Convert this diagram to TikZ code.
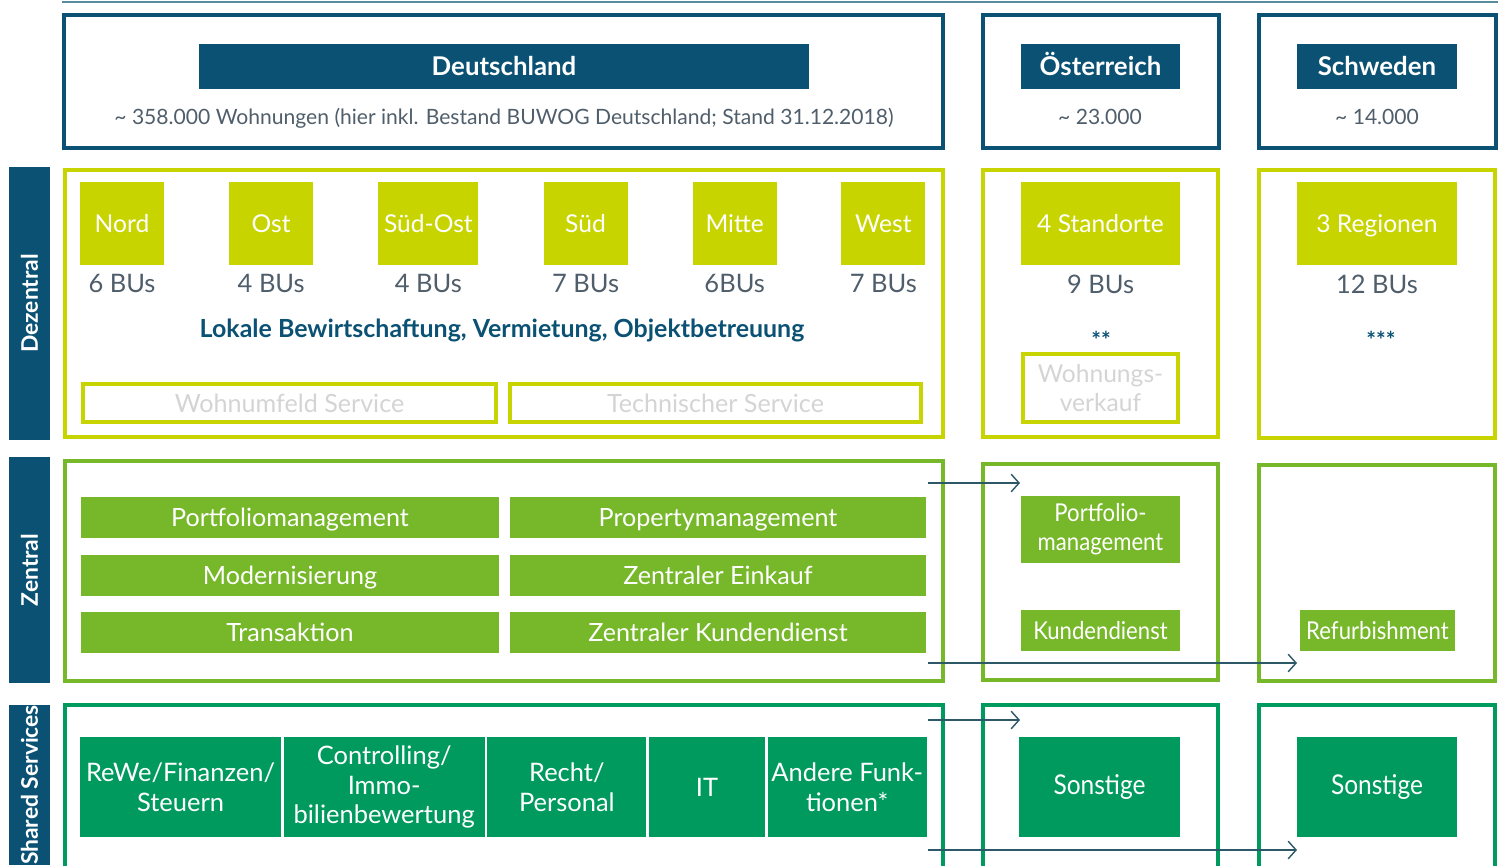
\documentclass[tikz,border=0pt]{standalone}
\usepackage{fontspec}
\setmainfont{Lato}
\newfontfamily\schmal[FakeStretch=0.9]{Lato}
\usetikzlibrary{positioning,arrows.meta}

\definecolor{dunkelblau}{HTML}{0B5174}
\definecolor{limette}{HTML}{C8D400}
\definecolor{gruen}{HTML}{76B82A}
\definecolor{ssgruen}{HTML}{009A5E}
\definecolor{pfeil}{HTML}{2D5868}
\definecolor{textgrau}{HTML}{4F5E6A}
\definecolor{hellgrau}{HTML}{D4D4D4}
\definecolor{linie}{HTML}{5B8C9E}

\begin{document}
\begin{tikzpicture}[x=0.02cm, y=-0.02cm]
		\tikzstyle{land}=[rectangle, fill=dunkelblau, text=white, font=\bfseries\fontsize{14.7}{16}\selectfont, minimum height=0.9cm, inner sep=0pt, text height=10.5pt, text depth=0pt]
		\tikzstyle{anzahl}=[text=textgrau, font=\fontsize{12}{15}\selectfont, inner sep=0pt, anchor=base]
		\tikzstyle{seite}=[rectangle, fill=dunkelblau, text=white, font=\bfseries\fontsize{13}{15}\selectfont, rotate=90, minimum height=0.82cm, inner sep=0pt]
		\tikzstyle{region}=[rectangle, fill=limette, text=white, font=\fontsize{14}{16}\selectfont, minimum height=1.66cm, minimum width=1.68cm, inner sep=0pt, text height=10pt, text depth=0pt]
		\tikzstyle{bu}=[text=textgrau, font=\fontsize{14.5}{17}\selectfont, inner sep=0pt]
		\tikzstyle{service}=[rectangle, draw=limette, line width=2.5pt, text=hellgrau, font=\fontsize{14.3}{16}\selectfont, minimum height=0.75cm, inner sep=0pt, align=center]
		\tikzstyle{zentral}=[rectangle, fill=gruen, text=white, font=\fontsize{14.3}{17}\selectfont, minimum height=0.82cm, inner sep=0pt, text height=10.25pt, text depth=0pt]
		\tikzstyle{zentralklein}=[rectangle, fill=gruen, text=white, font=\schmal\fontsize{14}{16.5}\selectfont, minimum height=0.82cm, inner sep=0pt, align=center]
		\tikzstyle{shared}=[rectangle, fill=ssgruen, text=white, font=\fontsize{14.5}{17}\selectfont, minimum height=2cm, inner sep=0pt, align=center]
		\tikzstyle{stern}=[text=dunkelblau, font=\bfseries\fontsize{13}{15}\selectfont, inner sep=0pt, anchor=north]
		\tikzstyle{connect}=[-{Straight Barb[length=4.5pt, width=10pt]}, draw=pfeil, line width=0.8pt]
		
		\useasboundingbox (0,0) rectangle (1503,865);
		\clip (0,0) rectangle (1503,865);
		
		\draw[linie, line width=1pt] (62,2) -- (1498,2);
		
		% Rahmen
		\draw[dunkelblau, line width=2.2pt] (64,15) rectangle (943,148);
		\draw[dunkelblau, line width=2.2pt] (983,15) rectangle (1219,148);
		\draw[dunkelblau, line width=2.2pt] (1259,15) rectangle (1496,148);
		
		\draw[limette, line width=2pt] (65,170) rectangle (943,437);
		\draw[limette, line width=2pt] (983,170) rectangle (1218,437);
		\draw[limette, line width=2pt] (1259,170) rectangle (1495,438);
		
		\draw[gruen, line width=1.8pt] (65,461) rectangle (943,681);
		\draw[gruen, line width=1.8pt] (983,464) rectangle (1218,680);
		\draw[gruen, line width=1.8pt] (1259,465) rectangle (1495,681);
		
		\draw[ssgruen, line width=1.8pt] (65,705) rectangle (943,900);
		\draw[ssgruen, line width=1.8pt] (983,705) rectangle (1218,900);
		\draw[ssgruen, line width=1.8pt] (1259,705) rectangle (1495,900);
		
		\node[seite, minimum width=5.46cm] (dezentral) at (29.5,303.5) {Dezentral};
		\node[seite, minimum width=4.52cm] (zentralL) at (29.5,570) {Zentral};
		\node[seite, minimum width=3.2cm] (sharedL) at (29.5,785) {Shared Services};
		
		% Laender
		\node[land, minimum width=12.2cm] (deutschland) at (504,66.5) {Deutschland};
		\node[anzahl] (wohnD) at (504,124) {\textasciitilde{} 358.000 Wohnungen (hier inkl. Bestand BUWOG Deutschland; Stand 31.12.2018)};
		\node[land, minimum width=3.18cm] (oesterreich) at (1100.5,66.5) {Österreich};
		\node[anzahl] (wohnA) at (1100,124) {\textasciitilde{} 23.000};
		\node[land, minimum width=3.2cm] (schweden) at (1377,66.5) {Schweden};
		\node[anzahl] (wohnS) at (1377,124) {\textasciitilde{} 14.000};
		
		% Dezentral
		\node[region] (nord) at (122,223.5) {Nord};
		\node[region] (ost) [right=1.29cm of nord] {Ost};
		\node[region, minimum width=2cm] (suedost) [right=1.29cm of ost] {Süd-Ost};
		\node[region] (sued) [right=1.29cm of suedost] {Süd};
		\node[region] (mitte) [right=1.29cm of sued] {Mitte};
		\node[region] (west) [right=1.28cm of mitte] {West};
		
		\node[bu] (buNord) [below=0.18cm of nord] {6 BUs};
		\node[bu] (buOst) [below=0.18cm of ost] {4 BUs};
		\node[bu] (buSuedost) [below=0.18cm of suedost] {4 BUs};
		\node[bu] (buSued) [below=0.18cm of sued] {7 BUs};
		\node[bu] (buMitte) [below=0.18cm of mitte] {6BUs};
		\node[bu] (buWest) [below=0.18cm of west] {7 BUs};
		
		\node[text=dunkelblau, font=\bfseries\fontsize{14.2}{16}\selectfont, anchor=base] (lokal) at (502,337) {Lokale Bewirtschaftung, Vermietung, Objektbetreuung};
		
		\node[service, minimum width=8.25cm] (wohnumfeld) at (289.5,403) {Wohnumfeld Service};
		\node[service, minimum width=8.21cm] (technik) at (715.5,403) {Technischer Service};
		
		\node[region, minimum width=3.18cm] (standorte) at (1100.5,223.5) {4 Standorte};
		\node[bu] (buA) [below=0.18cm of standorte] {9 BUs};
		\node[stern] (sternA) at (1101,331) {**};
		\node[service, font=\fontsize{14}{16}\selectfont, minimum width=3.09cm, minimum height=1.35cm] (verkauf) at (1100.5,388) {Wohnungs-\\verkauf};
		
		\node[region, minimum width=3.2cm] (regionen) at (1377,223.5) {3 Regionen};
		\node[bu] (buS) [below=0.18cm of regionen] {12 BUs};
		\node[stern] (sternS) at (1381,331) {***};
		
		% Zentral
		\node[zentral, minimum width=8.36cm] (portfolio) at (290,517.5) {Portfoliomanagement};
		\node[zentral, minimum width=8.36cm] (modern) [below=0.32cm of portfolio] {Modernisierung};
		\node[zentral, minimum width=8.36cm] (transaktion) [below=0.32cm of modern] {Transaktion};
		\node[zentral, minimum width=8.32cm] (property) at (718,517.5) {Propertymanagement};
		\node[zentral, minimum width=8.32cm] (einkauf) [below=0.32cm of property] {Zentraler Einkauf};
		\node[zentral, minimum width=8.32cm] (kundendienstD) [below=0.32cm of einkauf] {Zentraler Kundendienst};
		
		\node[zentralklein, minimum width=3.18cm, minimum height=1.34cm] (portfolioA) at (1100.5,529.5) {Portfolio-\\management};
		\node[zentralklein, minimum width=3.18cm] (kundendienstA) at (1100.5,630.5) {Kundendienst};
		\node[zentralklein, minimum width=3.1cm] (refurb) at (1377.5,630.5) {Refurbishment};
		
		% Shared Services
		\node[shared, minimum width=4.02cm] (rewe) at (180.5,787) {ReWe/Finanzen/\\Steuern};
		\node[shared, minimum width=4.02cm] (controlling) [right=0.04cm of rewe] {Controlling/\\Immo-\\bilienbewertung};
		\node[shared, minimum width=3.18cm] (recht) [right=0.04cm of controlling] {Recht/\\Personal};
		\node[shared, minimum width=2.32cm] (it) [right=0.04cm of recht] {IT};
		\node[shared, minimum width=3.18cm] (andere) [right=0.04cm of it] {Andere Funk-\\tionen*};
		
		\node[shared, font=\schmal\fontsize{15.5}{17}\selectfont, minimum width=3.22cm] (sonstigeA) at (1099.5,787) {Sonstige};
		\node[shared, font=\schmal\fontsize{15.5}{17}\selectfont, minimum width=3.2cm] (sonstigeS) at (1377,787) {Sonstige};
		
		\coordinate (z1) at (928,483);
		\coordinate (z1e) at (1020,483);
		\coordinate (z2) at (928,663);
		\coordinate (z2e) at (1297,663);
		\coordinate (s1) at (928,720);
		\coordinate (s1e) at (1020,720);
		\coordinate (s2) at (928,850);
		\coordinate (s2e) at (1297,850);
		
		\path (z1) edge [connect] (z1e);
		\path (z2) edge [connect] (z2e);
		\path (s1) edge [connect] (s1e);
		\path (s2) edge [connect] (s2e);
		
	\end{tikzpicture}
\end{document}
